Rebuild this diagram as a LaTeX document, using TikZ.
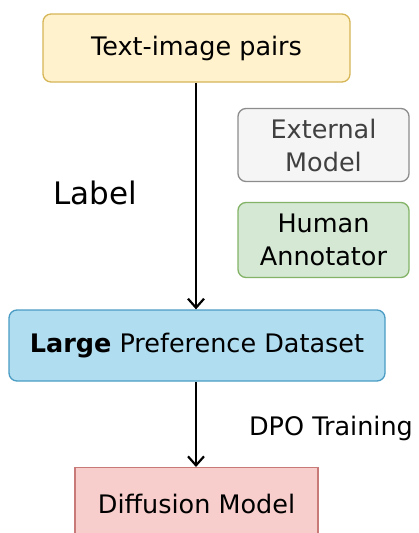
\documentclass[tikz,border=0pt]{standalone}
\usepackage{fontspec}
\setmainfont{DejaVu Sans}
\usetikzlibrary{arrows.meta}
\definecolor{yfill}{HTML}{FFF2CC}\definecolor{ydraw}{HTML}{D6B656}
\definecolor{gfill}{HTML}{F5F5F5}\definecolor{gdraw}{HTML}{8C8C8C}
\definecolor{hfill}{HTML}{D5E8D4}\definecolor{hdraw}{HTML}{82B366}
\definecolor{bfill}{HTML}{B1DDF0}\definecolor{bdraw}{HTML}{4A9CC4}
\definecolor{rfill}{HTML}{F8CECC}\definecolor{rdraw}{HTML}{C87A78}
\begin{document}
\begin{tikzpicture}[x=1pt,y=-1pt,
  box/.style={draw, line width=1.3pt, rounded corners=8pt, inner sep=0pt},
  lbl/.style={font=\fontsize{25.5}{33}\selectfont, align=center},
  arr/.style={line width=2.4pt, -{Straight Barb[length=9pt,width=16pt,line width=2.2pt]}}]
\useasboundingbox (0,0) rectangle (419,533);
\node[box, fill=yfill, draw=ydraw, minimum width=307pt, minimum height=68pt] (tip) at (196.5,48) {};
\node[lbl] at (tip) {Text-image pairs};
\node[box, fill=gfill, draw=gdraw, minimum width=171pt, minimum height=73pt] (ext) at (323.5,145) {};
\node[lbl, text=black!75] at (ext) {External\\Model};
\node[box, fill=hfill, draw=hdraw, minimum width=171pt, minimum height=75pt] (hum) at (323.5,240) {};
\node[lbl] at (hum) {Human\\Annotator};
\node[lbl, font=\fontsize{31}{36}\selectfont] (label) at (95,193) {Label};
\node[box, fill=bfill, draw=bdraw, minimum width=376pt, minimum height=71pt] (lpd) at (197,345.5) {};
\node[lbl] at (lpd) {\textbf{Large} Preference Dataset};
\node[lbl] (dpo) at (331,428) {DPO Training};
\node[box, rounded corners=0pt, fill=rfill, draw=rdraw, minimum width=243pt, minimum height=80pt, anchor=north] (dm) at (196.5,467) {};
\node[lbl] at (196.5,504) {Diffusion Model};
\draw[arr] (tip.south -| 196,0) -- (lpd.north -| 196,0);
\draw[arr] (lpd.south -| 196,0) -- (dm.north -| 196,0);
\end{tikzpicture}
\end{document}
